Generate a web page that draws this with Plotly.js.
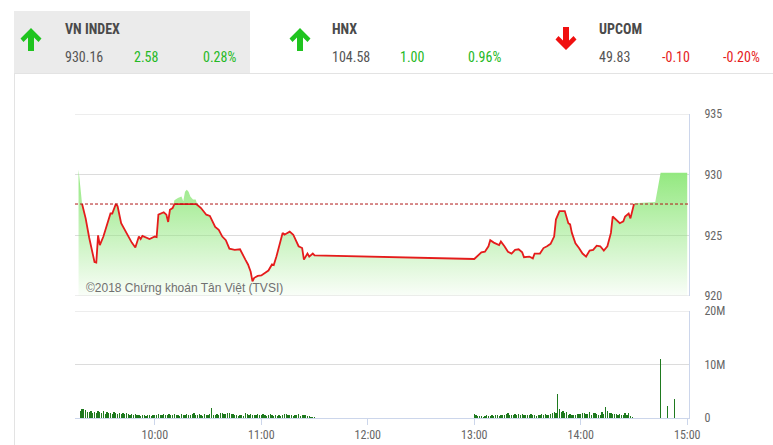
<!DOCTYPE html>
<html><head><meta charset="utf-8">
<script src="https://cdn.plot.ly/plotly-3.0.1.min.js"></script>
<style>html,body{margin:0;padding:0;background:#fff;}#chart{width:773px;height:445px;}</style>
</head><body><div id="chart"></div>
<script>
const DAY = '2018-08-02 ';
const refLevel = 927.58;

const indexTimes = ['09:17','09:19','09:21','09:23','09:24','09:26','09:27','09:28','09:29','09:31',
 '09:35','09:36','09:38','09:39','09:41','09:44','09:47','09:49','09:51','09:52','09:53','09:57',
 '10:00','10:01','10:02','10:05','10:06:30','10:07:30','10:08:30','10:10','10:11','10:13','10:15',
 '10:16','10:17','10:18','10:19','10:20','10:21:30','10:23','10:24','10:26','10:29','10:31','10:34',
 '10:36','10:38','10:40','10:42','10:45','10:48','10:49','10:51','10:52:30','10:54','10:55','10:56',
 '10:58','11:00','11:02','11:04','11:06','11:07','11:08:30','11:10','11:12','11:13','11:16','11:18',
 '11:21','11:23','11:24','11:26','11:27','11:29','11:30',
 '13:00','13:04','13:06','13:08','13:09','13:11','13:14','13:15','13:17','13:19','13:21','13:23',
 '13:25','13:27','13:28','13:31','13:33','13:34','13:37','13:39','13:41','13:43','13:45','13:46',
 '13:48','13:51','13:53','13:54','13:55','13:57','13:59','14:01','14:03','14:05','14:07','14:09',
 '14:11','14:13','14:15','14:17','14:18','14:20','14:22','14:24','14:25','14:27','14:28','14:30',
 '14:42','14:45','15:00'];
const indexValues = [930.41,927.58,926.4,924.8,924.2,922.8,922.75,925.0,924.2,924.9,
 926.8,926.8,927.65,927.4,926.0,925.2,924.4,924.0,924.9,924.7,924.96,924.7,
 924.9,924.85,926.7,926.9,926.7,926.1,927.1,927.25,927.9,928.07,928.2,
 927.8,928.6,928.75,928.6,928.2,927.95,927.95,927.5,927.25,926.7,926.6,925.7,
 925.45,924.9,924.6,923.9,923.8,923.85,923.6,923.0,922.6,922.0,921.2,921.5,
 921.65,921.7,921.9,922.1,922.6,922.55,923.25,924.1,925.2,925.05,925.3,925.05,
 924.1,923.95,923.0,923.5,923.25,923.5,923.35,
 923.05,923.6,923.65,924.1,924.6,924.4,924.2,924.5,924.1,923.65,923.5,923.8,
 923.85,923.6,923.2,923.25,923.1,923.5,923.5,923.95,924.1,924.3,924.9,926.3,
 927.0,927.0,926.0,925.9,925.2,924.35,923.95,923.5,923.25,923.75,923.8,924.15,
 924.1,923.75,924.1,925.2,926.55,926.3,926.0,926.15,926.55,926.8,926.4,927.65,
 927.75,930.16,930.16];
const lineStart = '09:19', lineEnd = '14:30';

const volMorningStart = '09:18';
const volMorning = [1.4,1.7,1.6,1.5,1.2,1.1,1.3,0.9,1.2,1.0,1.3,1.1,0.9,
 1.4,0.8,1.1,0.9,1.0,0.8,1.2,0.9,0.7,1.0,0.8,0.9,0.7,1.0,0.8,
 0.6,0.8,0.5,0.7,0.6,0.5,0.4,0.6,0.5,0.4,0.6,0.5,0.4,0.5,0.6,
 0.5,0.7,0.6,0.5,0.8,0.6,0.5,0.7,0.6,0.5,0.8,0.6,0.5,0.4,0.7,
 0.6,0.5,0.8,0.6,0.5,0.7,0.9,0.6,0.5,0.7,0.6,0.4,0.8,0.6,0.5,
 0.7,1.8,0.5,0.6,0.8,0.5,0.9,1.0,0.8,0.7,1.0,0.9,0.7,0.8,0.6,
 0.5,0.4,0.5,0.6,0.4,0.9,0.8,0.6,0.7,0.6,0.5,0.6,0.7,0.5,0.6,
 0.7,0.5,0.4,0.5,0.8,0.6,0.4,0.5,0.3,0.6,0.4,0.5,0.8,0.7,0.5,
 0.6,0.5,0.4,0.6,0.5,0.7,0.4,0.5,0.6,0.5,0.4,0.3,0.2,0.1,0.1];
const volAfternoonStart = '13:00';
const volAfternoon = [0.8,0.5,0.4,0.3,0.4,0.2,0.3,0.6,0.4,0.3,0.5,0.4,0.5,0.6,0.4,
 0.5,0.6,0.5,0.7,0.9,0.5,0.6,0.5,0.7,0.6,0.8,0.5,0.7,0.6,0.5,
 0.6,0.5,0.7,0.6,0.5,0.4,0.6,0.5,0.7,0.5,0.8,0.6,0.5,0.7,0.9,
 1.2,1.0,4.4,1.6,1.2,1.3,0.9,1.1,0.6,0.7,0.6,0.5,0.6,0.7,0.8,
 0.7,0.9,1.0,0.8,0.7,1.1,0.6,0.9,1.0,0.7,0.5,0.6,1.2,0.8,2.0,
 1.3,1.0,0.9,0.8,0.7,0.8,0.6,0.7,0.5,0.6,0.9,0.5,1.0,0.4,0.2];
const volCloseStart = '14:30';
const volClose = [0.05,0,0,0.05,0,0,0.05,0,0,0.05,0,0,0.05,0,0,
 11.0,0.05,0.05,0,2.2,0.05,0.05,0.05,3.5,0.05,0.05,0.05,0.05,0.05,0.05,0.05];

const yTicks = [920,925,930,935];
const volTicks = [0,10,20];
const volTickText = ['0','10M','20M'];
const hourTicks = ['10:00','11:00','12:00','13:00','14:00','15:00'];

const headerNames = ['VN INDEX','HNX','UPCOM'];
const headerValues = ['930.16','104.58','49.83'];
const headerChanges = ['2.58','1.00','-0.10'];
const headerPercents = ['0.28%','0.96%','-0.20%'];
const headerUp = [true,true,false];
const copyrightText = '©2018 Chứng khoán Tân Việt (TVSI)';

// ---------- helpers ----------
const W = 773, H = 445, L = 75, R = 689, T = 114, B = 418;
const px = x => (x - L) / (R - L);
const py = y => (B - y) / (B - T);
const pad = n => String(n).padStart(2,'0');
const norm = s => s.length === 5 ? s + ':00' : s;
const toDate = s => DAY + norm(s);
const addMin = (hhmm, i) => { const [h,m] = hhmm.split(':').map(Number); const t = h*60+m+i; return DAY + pad(Math.floor(t/60)) + ':' + pad(t%60) + ':00'; };

const FONT = '"Liberation Sans Narrow", "Roboto Condensed", Roboto, Arial, sans-serif';
const GREEN = '#25b925', RED = '#e51c1c';
const GRID = '#dcdcdc';

// line (continuous session), clipped at reference level like the chart's zone colouring
const lx = [], ly = [];
indexTimes.forEach((t,i) => {
  if (norm(t) >= norm(lineStart) && norm(t) <= norm(lineEnd)) { lx.push(toDate(t)); ly.push(Math.min(indexValues[i], refLevel)); }
});

const vx = [], vy = [];
[[volMorningStart, volMorning],[volAfternoonStart, volAfternoon],[volCloseStart, volClose]].forEach(([s, arr]) => {
  arr.forEach((v,i) => { vx.push(addMin(s,i)); vy.push(v); });
});

const traces = [
  { x: indexTimes.map(toDate), y: indexValues, type: 'scatter', mode: 'lines', line: {width: 0, color: 'rgba(0,0,0,0)'},
    fill: 'tozeroy', fillgradient: {type: 'vertical', start: 920, stop: 930.5,
      colorscale: [[0,'rgba(144,230,124,0.05)'],[1,'rgba(144,232,124,1)']]},
    xaxis: 'x', yaxis: 'y', hoverinfo: 'skip', showlegend: false },
  { x: lx, y: ly, type: 'scatter', mode: 'lines', line: {color: RED, width: 1.8},
    xaxis: 'x', yaxis: 'y', showlegend: false },
  { x: vx, y: vy, type: 'bar', marker: {color: '#1f7a1f'}, width: 42000,
    xaxis: 'x', yaxis: 'y2', showlegend: false }
];

// header + edge gridlines
const shapes = [
  {type:'rect', xref:'paper', yref:'paper', x0: px(14), x1: px(250), y0: py(73), y1: py(11), fillcolor:'#ebebeb', line:{width:0}, layer:'below'},
  {type:'line', xref:'paper', yref:'paper', x0: px(14), x1: px(773), y0: py(73.5), y1: py(73.5), line:{color:'#e3e3e3', width:1}},
  {type:'line', xref:'paper', yref:'paper', x0: px(14.5), x1: px(14.5), y0: py(73), y1: py(445), line:{color:'#e3e3e3', width:1}},
  {type:'line', xref:'paper', yref:'y', x0: 0, x1: 1, y0: yTicks[yTicks.length-1], y1: yTicks[yTicks.length-1], line:{color: GRID, width:1}},
  {type:'line', xref:'paper', yref:'y', x0: 0, x1: 1, y0: yTicks[0], y1: yTicks[0], line:{color: GRID, width:1}},
  {type:'line', xref:'paper', yref:'y2', x0: 0, x1: 1, y0: volTicks[volTicks.length-1], y1: volTicks[volTicks.length-1], line:{color: GRID, width:1}},
  {type:'line', xref:'paper', yref:'y', x0: 0, x1: 1, y0: refLevel, y1: refLevel, line:{color:'#b01818', width:1, dash:'3px,2px'}}
];
const arrowPts = [[0,0],[10.5,10.5],[7.5,14],[3,9.5],[3,23],[-3,23],[-3,9.5],[-7.5,14],[-10.5,10.5]];
function arrowPath(cx, top, up) {
  return 'M' + arrowPts.map(([dx,dy]) => { const y = up ? top + dy : top + 23 - dy; return px(cx+dx) + ',' + py(y); }).join(' L') + ' Z';
}
const arrowX = [31, 300, 566];
const textX = [[63,132,201],[330,398,466],[597,660,721]];
const annotations = [];
headerNames.forEach((n,i) => {
  shapes.push({type:'path', xref:'paper', yref:'paper', path: arrowPath(arrowX[i], headerUp[i] ? 28 : 27, headerUp[i]),
    fillcolor: headerUp[i] ? '#1fc41f' : '#f01010', line:{width:0}});
  const c = headerUp[i] ? GREEN : RED;
  annotations.push({xref:'paper', yref:'paper', x: px(textX[i][0]), y: py(28.5), xanchor:'left', yanchor:'middle', showarrow:false,
    text: '<b>' + n + '</b>', font:{family: FONT, size: 14, color:'#4a4a4a'}});
  annotations.push({xref:'paper', yref:'paper', x: px(textX[i][0]), y: py(57), xanchor:'left', yanchor:'middle', showarrow:false,
    text: headerValues[i], font:{family: FONT, size: 14, color:'#555'}});
  annotations.push({xref:'paper', yref:'paper', x: px(textX[i][1]), y: py(57), xanchor:'left', yanchor:'middle', showarrow:false,
    text: headerChanges[i], font:{family: FONT, size: 14, color: c}});
  annotations.push({xref:'paper', yref:'paper', x: px(textX[i][2]), y: py(57), xanchor:'left', yanchor:'middle', showarrow:false,
    text: headerPercents[i], font:{family: FONT, size: 14, color: c}});
});
annotations.push({xref:'paper', yref:'paper', x: px(84), y: py(288), xanchor:'left', yanchor:'middle', showarrow:false,
  text: copyrightText, font:{family:'"Liberation Sans", Arial, sans-serif', size: 12, color:'#707070'}});

const layout = {
  width: W, height: H,
  margin: {l: L, r: W - R, t: T, b: H - B, pad: 0},
  paper_bgcolor: '#fff', plot_bgcolor: 'rgba(0,0,0,0)',
  showlegend: false, bargap: 0,
  xaxis: {type:'date', range: [DAY+'09:15:00', DAY+'15:01:00'], anchor:'y2',
    tickvals: hourTicks.map(toDate), ticktext: hourTicks, ticks:'outside', ticklen: 6, tickcolor:'#ccd6eb',
    showline: true, linecolor:'#ccd6eb', linewidth: 1, showgrid: false, zeroline: false,
    tickfont:{family: FONT, size: 12, color:'#666'}, fixedrange: true},
  yaxis: {domain: [(B-296)/(B-T), 1], range: [920, 935], side:'right', tickvals: yTicks,
    showgrid: true, gridcolor: GRID, gridwidth: 1, showline: true, linecolor:'#ccd6eb', zeroline: false,
    ticks:'', ticklabelstandoff: 12, tickfont:{family: FONT, size: 12, color:'#666'}, fixedrange: true},
  yaxis2: {domain: [0, (B-311)/(B-T)], range: [0, 20], side:'right', tickvals: volTicks, ticktext: volTickText,
    showgrid: true, gridcolor: GRID, gridwidth: 1, showline: true, linecolor:'#ccd6eb', zeroline: false,
    ticks:'', ticklabelstandoff: 12, tickfont:{family: FONT, size: 12, color:'#666'}, fixedrange: true},
  shapes: shapes, annotations: annotations
};

Plotly.newPlot('chart', traces, layout, {displayModeBar: false, staticPlot: true});
</script>
</body></html>
